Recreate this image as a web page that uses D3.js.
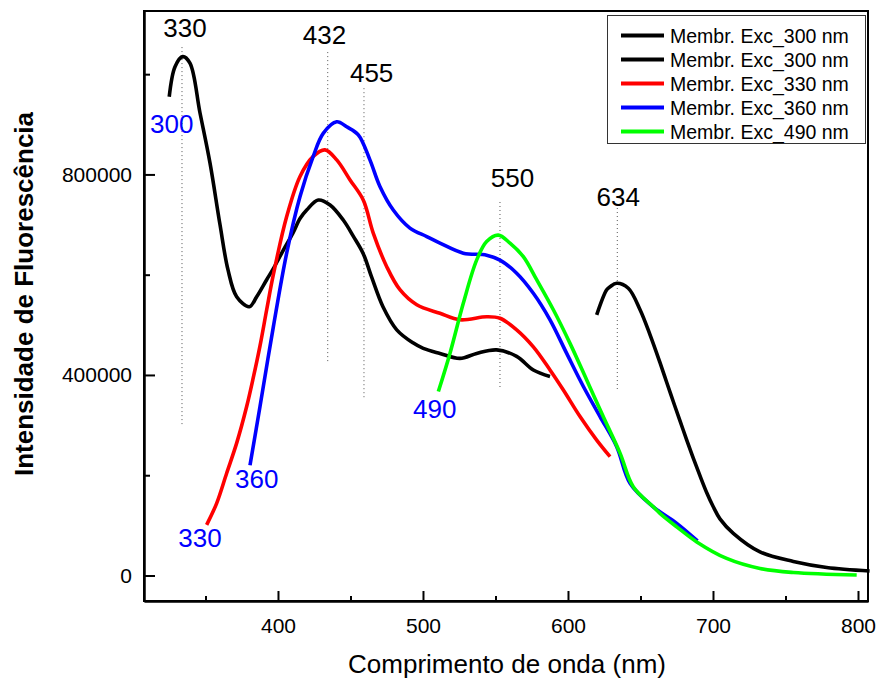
<!DOCTYPE html>
<html>
<head>
<meta charset="utf-8">
<script src="https://cdn.jsdelivr.net/npm/d3@7"></script>
<style>
  html, body { margin: 0; padding: 0; background: #fff; }
  svg { display: block; font-family: "Liberation Sans", Arial, sans-serif; }
</style>
</head>
<body>
<svg id="chart" width="877" height="681"></svg>
<script>
// ---------------- DATA ----------------
const seriesNames = ["Membr. Exc_300 nm", "Membr. Exc_300 nm", "Membr. Exc_330 nm", "Membr. Exc_360 nm", "Membr. Exc_490 nm"];
const seriesColors = ["#000000", "#000000", "#ff0000", "#0000ff", "#00ff00"];

const black1Nm  = [325, 329, 334.3, 339.3, 346.2, 353.1, 360, 365.5, 371.5, 380.2, 385.3, 392.2, 396.8, 403.7, 410.3, 415.2, 419.8, 427.8, 435.9, 445, 451.9, 458.8, 464.6, 472.4, 481.9, 493.1, 500.2, 511.7, 525.5, 537, 550.8, 564.6, 576.1, 587.6];
const black1Val = [955000, 1015000, 1035000, 1022000, 923000, 823000, 700000, 610000, 556000, 536000, 556000, 590000, 612000, 649000, 683000, 712000, 729000, 749000, 739000, 709000, 677000, 642000, 595000, 536000, 490000, 464000, 453000, 443000, 433000, 443000, 450000, 437000, 410000, 397000];

const black2Nm  = [619.8, 626.7, 629, 633.6, 641.6, 649.7, 656.6, 663.4, 668.1, 672.6, 677.2, 681.9, 686.4, 691, 695.7, 700.2, 704.8, 714, 732.4, 755.4, 778.4, 808];
const black2Val = [520000, 570000, 576000, 583000, 573000, 530000, 480000, 425000, 385000, 347000, 309000, 270000, 234000, 199000, 165000, 137000, 113000, 84000, 47000, 28000, 16000, 9000];

const redNm  = [350.8, 357.7, 364.6, 371.5, 378.4, 383, 387.6, 392.2, 396.8, 406, 415.2, 424.3, 432.4, 440.5, 449.7, 458.8, 465.7, 475, 484.1, 495.7, 511.7, 525.5, 543.9, 553.1, 564.6, 576.1, 587.6, 596.8, 608.3, 619.8, 629];
const redVal = [101000, 144000, 204000, 264000, 337000, 395000, 458000, 530000, 600000, 716000, 796000, 836000, 849000, 829000, 789000, 749000, 683000, 616000, 570000, 540000, 523000, 510000, 516000, 513000, 490000, 456000, 410000, 370000, 317000, 270000, 237000];

const blueNm  = [380.7, 387.6, 396.8, 406, 415.2, 424.3, 431.2, 440.5, 447.4, 455.4, 463.4, 470.3, 479.5, 491, 502.6, 511.7, 527.8, 543.9, 553.1, 564.6, 576.1, 587.6, 599.1, 610.6, 622.1, 633.6, 642.8, 658.8, 675, 689.3];
const blueVal = [220000, 337000, 496000, 643000, 756000, 836000, 882000, 905000, 895000, 879000, 829000, 776000, 729000, 693000, 676000, 663000, 643000, 639000, 629000, 603000, 563000, 510000, 443000, 377000, 317000, 257000, 184000, 137000, 104000, 69000];

const greenNm  = [510.6, 518.6, 527.8, 537, 543.9, 551.9, 560, 569.2, 578.4, 589.9, 601.4, 612.9, 624.3, 635.9, 645, 658.8, 663.4, 675, 688.8, 709.4, 732.4, 755.4, 799.1];
const greenVal = [367000, 443000, 543000, 629000, 666000, 679000, 663000, 636000, 590000, 530000, 463000, 390000, 317000, 244000, 177000, 137000, 124000, 97000, 67000, 34000, 14000, 6000, 1000];

const xMajorTicks = [400, 500, 600, 700, 800];
const xMinorTicks = [350, 450, 550, 650, 750];
const yMajorTicks = [0, 400000, 800000];
const yMinorTicks = [200000, 600000, 1000000];

// peak annotations (black text + dotted guide)
const peakLabels  = ["330", "432", "455", "550", "634"];
const peakLineNm  = [333.8, 434.3, 459.3, 553.1, 634.0];
const peakLineTop = [1054000, 1044000, 972000, 745000, 733000];
const peakLineBot = [300000, 426000, 350000, 372000, 372000];
const peakTextNm  = [335.9, 432.1, 464.6, 561.7, 634.7];
const peakTextVal = [1074000, 1060000, 984500, 775700, 737000];

// excitation labels (blue text)
const excLabels  = ["300", "360", "330", "490"];
const excTextNm  = [326.7, 385.3, 346.2, 508.1];
const excTextVal = [883000, 174600, 57500, 313600];

// ---------------- LAYOUT ----------------
const W = 877, H = 681;
const margin = { left: 144, top: 11, right: 9, bottom: 80 };
const pw = W - margin.left - margin.right;
const ph = H - margin.top - margin.bottom;
const FONT = '"Liberation Sans", Arial, sans-serif';

const svg = d3.select("#chart");
const g = svg.append("g").attr("transform", `translate(${margin.left},${margin.top})`);

const x = d3.scaleLinear().domain([307.6, 806.9]).range([0, pw]);
const y = d3.scaleLinear().domain([-50900, 1126000]).range([ph, 0]);

// frame
g.append("rect").attr("x", 0).attr("y", 0).attr("width", pw).attr("height", ph)
  .attr("fill", "none").attr("stroke", "#000").attr("stroke-width", 2);

// axes
const xAxis = g.append("g").attr("transform", `translate(0,${ph})`)
  .call(d3.axisBottom(x).tickValues(xMajorTicks).tickSizeInner(-10).tickSizeOuter(0).tickPadding(17).tickFormat(d3.format("d")));
const xAxisMinor = g.append("g").attr("transform", `translate(0,${ph})`)
  .call(d3.axisBottom(x).tickValues(xMinorTicks).tickSizeInner(-5).tickSizeOuter(0).tickFormat(""));
const yAxis = g.append("g")
  .call(d3.axisLeft(y).tickValues(yMajorTicks).tickSizeInner(-11).tickSizeOuter(0).tickPadding(12).tickFormat(d3.format("d")));
const yAxisMinor = g.append("g")
  .call(d3.axisLeft(y).tickValues(yMinorTicks).tickSizeInner(-6).tickSizeOuter(0).tickFormat(""));

[xAxis, xAxisMinor, yAxis, yAxisMinor].forEach(a => {
  a.select(".domain").attr("stroke", "#000").attr("stroke-width", 2);
  a.selectAll(".tick line").attr("stroke", "#000").attr("stroke-width", 2);
  a.selectAll(".tick text").attr("fill", "#000").style("font-family", FONT).style("font-size", "21px");
});

// axis titles
svg.append("text").attr("x", 507).attr("y", 673).attr("text-anchor", "middle")
  .style("font-family", FONT).style("font-size", "26px").attr("fill", "#000")
  .text("Comprimento de onda (nm)");
svg.append("text").attr("transform", "translate(33,294) rotate(-90)").attr("text-anchor", "middle")
  .style("font-family", FONT).style("font-size", "26px").style("font-weight", "bold").attr("fill", "#000")
  .text("Intensidade de Fluorescência");

// dotted peak guides
const peaks = peakLabels.map((t, i) => ({ t, ln: peakLineNm[i], lt: peakLineTop[i], lb: peakLineBot[i], tn: peakTextNm[i], tv: peakTextVal[i] }));
g.selectAll("line.guide").data(peaks).enter().append("line").attr("class", "guide")
  .attr("x1", d => x(d.ln)).attr("x2", d => x(d.ln))
  .attr("y1", d => y(d.lt)).attr("y2", d => y(d.lb))
  .attr("stroke", "#555").attr("stroke-width", 1).attr("stroke-dasharray", "1,3");

// series
const series = [
  [black1Nm, black1Val], [black2Nm, black2Val], [redNm, redVal], [blueNm, blueVal], [greenNm, greenVal]
].map((s, i) => ({ color: seriesColors[i], pts: s[0].map((n, j) => [n, s[1][j]]) }));

const line = d3.line().x(d => x(d[0])).y(d => y(d[1])).curve(d3.curveCatmullRom.alpha(0.5));
g.selectAll("path.series").data(series).enter().append("path").attr("class", "series")
  .attr("d", d => line(d.pts)).attr("fill", "none").attr("stroke", d => d.color)
  .attr("stroke-width", 3.6).attr("stroke-linejoin", "round").attr("stroke-linecap", "butt");

// peak labels
g.selectAll("text.peak").data(peaks).enter().append("text").attr("class", "peak")
  .attr("x", d => x(d.tn)).attr("y", d => y(d.tv)).attr("text-anchor", "middle")
  .style("font-family", FONT).style("font-size", "26px").attr("fill", "#000").text(d => d.t);

// excitation labels
const excs = excLabels.map((t, i) => ({ t, n: excTextNm[i], v: excTextVal[i] }));
g.selectAll("text.exc").data(excs).enter().append("text").attr("class", "exc")
  .attr("x", d => x(d.n)).attr("y", d => y(d.v)).attr("text-anchor", "middle")
  .style("font-family", FONT).style("font-size", "26px").attr("fill", "#0000ff").text(d => d.t);

// legend
const leg = svg.append("g").attr("transform", "translate(607,15)");
leg.append("rect").attr("x", 0.5).attr("y", 0.5).attr("width", 258).attr("height", 128)
  .attr("fill", "#fff").attr("stroke", "#333").attr("stroke-width", 1);
const rows = leg.selectAll("g.row").data(seriesNames).enter().append("g").attr("class", "row")
  .attr("transform", (d, i) => `translate(0,${20.5 + i * 24})`);
rows.append("line").attr("x1", 14).attr("x2", 57).attr("y1", 0).attr("y2", 0)
  .attr("stroke", (d, i) => seriesColors[i]).attr("stroke-width", 4);
rows.append("text").attr("x", 63).attr("y", 7).style("font-family", FONT).style("font-size", "19.5px")
  .attr("fill", "#000").text(d => d);
</script>
</body>
</html>
